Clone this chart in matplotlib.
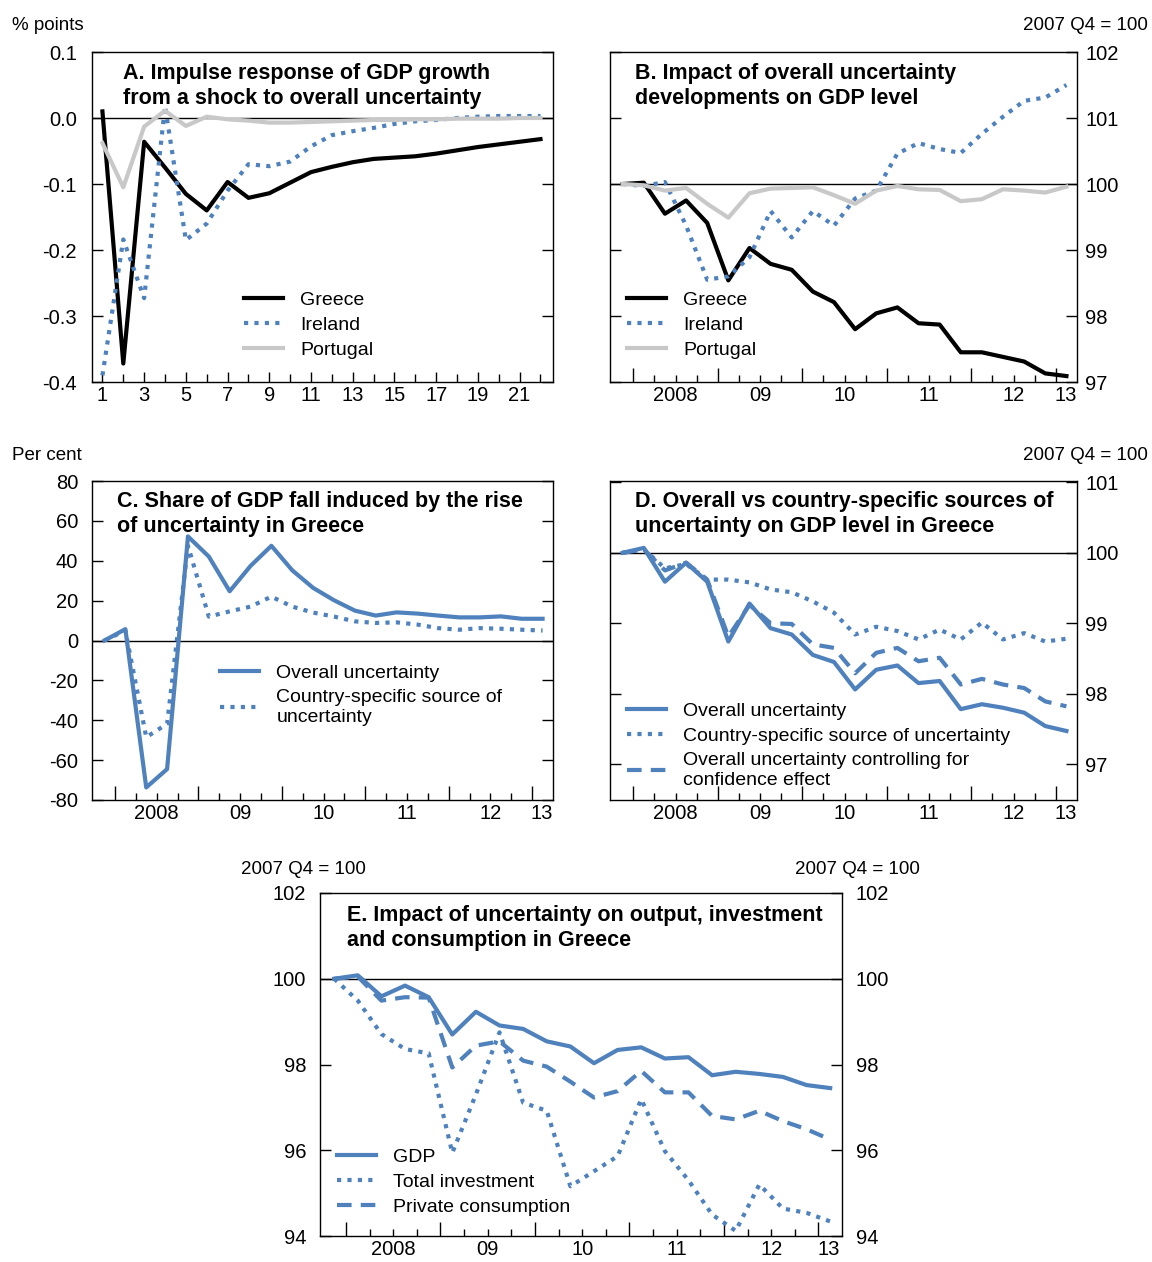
import numpy as np
import matplotlib.pyplot as plt
from matplotlib.transforms import ScaledTranslation

plt.rcParams['font.family'] = ['Liberation Sans', 'DejaVu Sans']
plt.rcParams['axes.unicode_minus'] = False

W, H = 1152, 1262
BLUE = '#4f81bd'
GREY = '#c8c8c8'
DOT = (0, (1, 1.5))
DASH = (0, (3.5, 2.2))

# Panel A: impulse response, horizon 1..22
horizon = np.arange(1, 23)
irf_greece = [0.01, -0.372, -0.036, -0.075, -0.115, -0.14, -0.097, -0.121, -0.114, -0.098, -0.082,
              -0.074, -0.067, -0.062, -0.06, -0.058, -0.054, -0.049, -0.044, -0.04, -0.036, -0.032]
irf_ireland = [-0.39, -0.184, -0.273, 0.018, -0.185, -0.16, -0.11, -0.07, -0.073, -0.066, -0.043,
               -0.026, -0.02, -0.015, -0.009, -0.005, -0.003, 0.0, 0.002, 0.003, 0.003, 0.003]
irf_portugal = [-0.038, -0.105, -0.013, 0.011, -0.012, 0.002, -0.002, -0.004, -0.007, -0.007, -0.006,
                -0.005, -0.004, -0.003, -0.003, -0.002, -0.002, -0.001, -0.001, -0.001, 0.0, 0.0]

# quarters 2007Q4 .. 2013Q1
quarters = np.arange(22)
year_labels = ['2008', '09', '10', '11', '12', '13']
year_label_pos = [2.5, 6.5, 10.5, 14.5, 18.5, 20.95]
year_bounds = [0.5, 4.5, 8.5, 12.5, 16.5, 20.5]

# Panel B: GDP level, 2007Q4 = 100
b_greece = [100.0, 100.02, 99.55, 99.75, 99.41, 98.54, 99.03, 98.79, 98.70, 98.37, 98.21,
            97.80, 98.04, 98.13, 97.89, 97.87, 97.45, 97.45, 97.38, 97.31, 97.13, 97.09]
b_ireland = [100.0, 99.97, 100.03, 99.37, 98.55, 98.60, 98.89, 99.59, 99.19, 99.59, 99.37,
             99.78, 99.90, 100.46, 100.62, 100.53, 100.47, 100.76, 101.02, 101.26, 101.31, 101.5]
b_portugal = [100.0, 99.98, 99.9, 99.94, 99.70, 99.49, 99.86, 99.93, 99.94, 99.95, 99.83,
              99.70, 99.90, 99.97, 99.92, 99.91, 99.74, 99.77, 99.92, 99.90, 99.87, 99.96]

# Panel C: share of GDP fall, per cent
c_overall = [0, 5.7, -73.7, -64.5, 52.2, 42.1, 24.7, 37.4, 47.5, 35.2, 26.4,
             20.2, 15.0, 12.5, 14.1, 13.5, 12.5, 11.6, 11.6, 12.1, 10.9, 10.9]
c_country = [0, 5.0, -48.5, -41.8, 47.5, 12.0, 14.6, 17.0, 22.0, 17.0, 14.0,
             12.0, 9.6, 8.8, 9.1, 8.0, 6.2, 5.4, 6.2, 5.9, 5.4, 5.0]

# Panel D: Greece GDP level
d_overall = [100.0, 100.07, 99.59, 99.86, 99.59, 98.74, 99.28, 98.93, 98.84, 98.55, 98.45,
             98.06, 98.34, 98.40, 98.15, 98.18, 97.78, 97.85, 97.80, 97.73, 97.54, 97.47]
d_country = [100.0, 100.05, 99.78, 99.84, 99.62, 99.62, 99.58, 99.48, 99.44, 99.31, 99.15,
             98.84, 98.95, 98.89, 98.77, 98.91, 98.77, 99.01, 98.77, 98.86, 98.74, 98.78]
d_confid = [100.0, 100.05, 99.75, 99.86, 99.62, 98.81, 99.26, 99.0, 98.99, 98.70, 98.65,
            98.29, 98.58, 98.65, 98.46, 98.51, 98.13, 98.21, 98.13, 98.08, 97.89, 97.82]

# Panel E: output, investment, consumption in Greece
e_gdp = [100.0, 100.08, 99.59, 99.84, 99.57, 98.70, 99.23, 98.91, 98.83, 98.54, 98.42,
         98.03, 98.34, 98.40, 98.14, 98.17, 97.75, 97.83, 97.78, 97.71, 97.52, 97.45]
e_invest = [100.0, 99.49, 98.71, 98.36, 98.26, 95.94, 97.3, 98.75, 97.11, 96.92, 95.16,
            95.51, 95.86, 97.19, 95.98, 95.3, 94.5, 94.12, 95.2, 94.64, 94.54, 94.34]
e_consum = [100.0, 100.05, 99.49, 99.57, 99.56, 97.93, 98.44, 98.54, 98.09, 97.95, 97.6,
            97.23, 97.38, 97.85, 97.35, 97.35, 96.8, 96.72, 96.92, 96.68, 96.49, 96.25]

fig = plt.figure(figsize=(W / 100, H / 100), dpi=100)


def ax_at(l, t, r, b):
    return fig.add_axes([l / W, 1 - b / H, (r - l) / W, (b - t) / H])


def ftext(x, y, s, **kw):
    fig.text(x / W, 1 - y / H, s, **kw)


def leg(ax, x, y, **kw):
    ax.legend(loc='upper left', bbox_to_anchor=(x / W, 1 - y / H), bbox_transform=fig.transFigure,
              frameon=False, borderpad=0, borderaxespad=0, handlelength=2.0, handletextpad=0.9,
              labelspacing=0.38, fontsize=14, **kw)


def frame(ax):
    for s in ax.spines.values():
        s.set_linewidth(1.0)
    ax.tick_params(axis='both', which='both', direction='in', labelsize=14.5, width=1.0)
    ax.tick_params(axis='y', which='major', length=8, left=True, right=True)


def quarter_axis(ax):
    ax.set_xlim(-0.6, 21.5)
    ax.set_xticks(year_bounds)
    ax.set_xticks(np.arange(0.5, 21.5, 1), minor=True)
    ax.set_xticklabels([])
    ax.tick_params(axis='x', which='major', length=10)
    ax.tick_params(axis='x', which='minor', length=5)
    tr = ax.get_xaxis_transform() + ScaledTranslation(0, -3 / 72, fig.dpi_scale_trans)
    for p, lab in zip(year_label_pos, year_labels):
        ax.text(p, 0, lab, transform=tr, ha='center', va='top', fontsize=14.5)


def title(x, y, s):
    ftext(x, y, s, fontsize=15.5, fontweight='bold', va='top', linespacing=1.25)


# ---- A
axA = ax_at(92, 52, 553, 382)
frame(axA)
axA.axhline(0, color='black', lw=1)
axA.plot(horizon, irf_greece, color='black', lw=3, label='Greece')
axA.plot(horizon, irf_ireland, color=BLUE, lw=3, ls=DOT, label='Ireland')
axA.plot(horizon, irf_portugal, color=GREY, lw=3, label='Portugal')
axA.set_xlim(0.5, 22.6)
axA.set_ylim(-0.4, 0.1)
axA.set_xticks(np.arange(1, 23, 2))
axA.set_xticks(np.arange(2, 23, 2), minor=True)
axA.tick_params(axis='x', which='major', length=7, pad=3)
axA.tick_params(axis='x', which='minor', length=6)
axA.set_yticks([0.1, 0.0, -0.1, -0.2, -0.3, -0.4])
axA.set_yticklabels(['0.1', '0.0', '-0.1', '-0.2', '-0.3', '-0.4'])
axA.tick_params(axis='y', pad=11)
title(123, 63, 'A. Impulse response of GDP growth\nfrom a shock to overall uncertainty')
leg(axA, 244, 291)

# ---- B
axB = ax_at(610, 52, 1077, 382)
frame(axB)
axB.axhline(100, color='black', lw=1)
axB.plot(quarters, b_greece, color='black', lw=3, label='Greece')
axB.plot(quarters, b_ireland, color=BLUE, lw=3, ls=DOT, label='Ireland')
axB.plot(quarters, b_portugal, color=GREY, lw=3, label='Portugal')
axB.set_ylim(97, 102)
axB.set_yticks([97, 98, 99, 100, 101, 102])
axB.yaxis.tick_right()
axB.tick_params(axis='y', left=True, right=True, labelleft=False, labelright=True, pad=6)
quarter_axis(axB)
title(635, 63, 'B. Impact of overall uncertainty\ndevelopments on GDP level')
leg(axB, 627, 291)

# ---- C
axC = ax_at(92, 481, 553, 800)
frame(axC)
axC.axhline(0, color='black', lw=1)
axC.plot(quarters, c_overall, color=BLUE, lw=3, label='Overall uncertainty')
axC.plot(quarters, c_country, color=BLUE, lw=3, ls=DOT, label='Country-specific source of\nuncertainty')
axC.set_ylim(-80, 80)
axC.set_yticks(np.arange(-80, 81, 20))
axC.tick_params(axis='y', pad=10)
quarter_axis(axC)
title(117, 491, 'C. Share of GDP fall induced by the rise\nof uncertainty in Greece')
leg(axC, 220, 664)

# ---- D
axD = ax_at(610, 481, 1077, 800)
frame(axD)
axD.axhline(100, color='black', lw=1)
axD.plot(quarters, d_overall, color=BLUE, lw=3, label='Overall uncertainty')
axD.plot(quarters, d_country, color=BLUE, lw=3, ls=DOT, label='Country-specific source of uncertainty')
axD.plot(quarters, d_confid, color=BLUE, lw=3, ls=DASH,
         label='Overall uncertainty controlling for\nconfidence effect')
axD.set_ylim(96.49, 101.02)
axD.set_yticks([97, 98, 99, 100, 101])
axD.yaxis.tick_right()
axD.tick_params(axis='y', left=True, right=True, labelleft=False, labelright=True, pad=6)
quarter_axis(axD)
title(635, 491, 'D. Overall vs country-specific sources of\nuncertainty on GDP level in Greece')
leg(axD, 627, 702)

# ---- E (a few px higher so the year labels stay inside the picture)
axE = ax_at(320, 893, 842, 1236)
frame(axE)
axE.axhline(100, color='black', lw=1)
axE.plot(quarters, e_gdp, color=BLUE, lw=3, label='GDP')
axE.plot(quarters, e_invest, color=BLUE, lw=3, ls=DOT, label='Total investment')
axE.plot(quarters, e_consum, color=BLUE, lw=3, ls=DASH, label='Private consumption')
axE.set_ylim(94, 102)
axE.set_yticks([94, 96, 98, 100, 102])
axE.tick_params(axis='y', left=True, right=True, labelleft=True, labelright=True, pad=10)
quarter_axis(axE)
title(347, 905, 'E. Impact of uncertainty on output, investment\nand consumption in Greece')
leg(axE, 337, 1148)

# unit labels
ftext(12, 25, '% points', fontsize=13.5, va='center', ha='left')
ftext(1148, 25, '2007 Q4 = 100', fontsize=13.5, va='center', ha='right')
ftext(12, 455, 'Per cent', fontsize=13.5, va='center', ha='left')
ftext(1148, 455, '2007 Q4 = 100', fontsize=13.5, va='center', ha='right')
ftext(303, 869, '2007 Q4 = 100', fontsize=13.5, va='center', ha='center')
ftext(857, 869, '2007 Q4 = 100', fontsize=13.5, va='center', ha='center')

fig.savefig('out.png', dpi=100)
